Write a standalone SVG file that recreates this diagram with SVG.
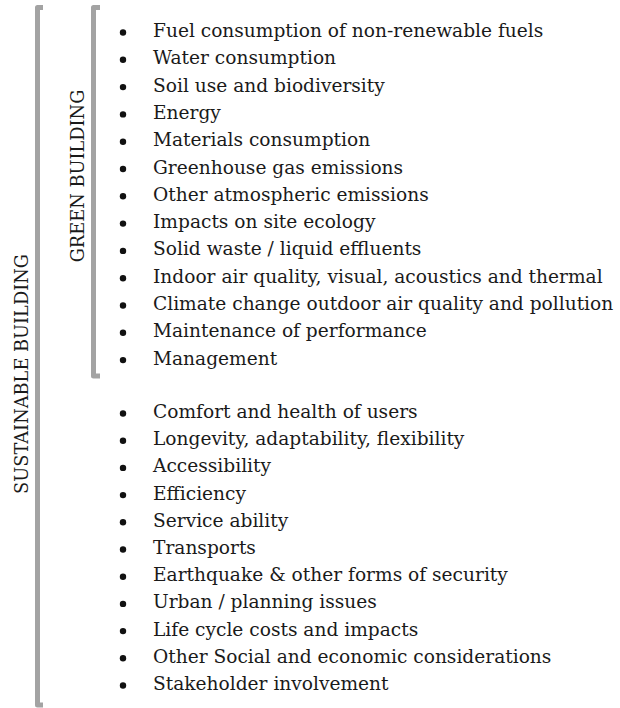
<svg xmlns="http://www.w3.org/2000/svg" width="620" height="708" viewBox="0 0 620 708">
<style>
.t{font-family:"DejaVu Serif","Liberation Serif",serif;font-size:18.6px;fill:#1a1a1a}
.v{font-family:"DejaVu Serif","Liberation Serif",serif;font-size:17.8px;fill:#1a1a1a;text-anchor:middle}
.br{fill:none;stroke:#a3a3a3;stroke-width:5;stroke-linejoin:round}
.b{fill:#111}
</style>
<rect width="620" height="708" fill="#fff"/>
<g id="sustainable">
<path class="br" d="M43,7.5 H37.5 V705 H43"/>
<text class="v" transform="translate(27.5,374) rotate(-90)">SUSTAINABLE BUILDING</text>
</g>
<g id="green">
<path class="br" d="M100,7.5 H93.5 V376 H100"/>
<text class="v" transform="translate(83.5,176) rotate(-90)">GREEN BUILDING</text>
</g>
<g id="green-items">
<circle class="b" cx="123" cy="32.5" r="3.2"/><text class="t" x="153" y="37">Fuel consumption of non-renewable fuels</text>
<circle class="b" cx="123" cy="59.8" r="3.2"/><text class="t" x="153" y="64.3">Water consumption</text>
<circle class="b" cx="123" cy="87.1" r="3.2"/><text class="t" x="153" y="91.6">Soil use and biodiversity</text>
<circle class="b" cx="123" cy="114.4" r="3.2"/><text class="t" x="153" y="118.9">Energy</text>
<circle class="b" cx="123" cy="141.7" r="3.2"/><text class="t" x="153" y="146.2">Materials consumption</text>
<circle class="b" cx="123" cy="169" r="3.2"/><text class="t" x="153" y="173.5">Greenhouse gas emissions</text>
<circle class="b" cx="123" cy="196.3" r="3.2"/><text class="t" x="153" y="200.8">Other atmospheric emissions</text>
<circle class="b" cx="123" cy="223.6" r="3.2"/><text class="t" x="153" y="228.1">Impacts on site ecology</text>
<circle class="b" cx="123" cy="250.9" r="3.2"/><text class="t" x="153" y="255.4">Solid waste / liquid effluents</text>
<circle class="b" cx="123" cy="278.2" r="3.2"/><text class="t" x="153" y="282.7">Indoor air quality, visual, acoustics and thermal</text>
<circle class="b" cx="123" cy="305.5" r="3.2"/><text class="t" x="153" y="310">Climate change outdoor air quality and pollution</text>
<circle class="b" cx="123" cy="332.8" r="3.2"/><text class="t" x="153" y="337.3">Maintenance of performance</text>
<circle class="b" cx="123" cy="360.1" r="3.2"/><text class="t" x="153" y="364.6">Management</text>
</g>
<g id="sustainable-items">
<circle class="b" cx="123" cy="413.5" r="3.2"/><text class="t" x="153" y="418">Comfort and health of users</text>
<circle class="b" cx="123" cy="440.7" r="3.2"/><text class="t" x="153" y="445.2">Longevity, adaptability, flexibility</text>
<circle class="b" cx="123" cy="467.9" r="3.2"/><text class="t" x="153" y="472.4">Accessibility</text>
<circle class="b" cx="123" cy="495.1" r="3.2"/><text class="t" x="153" y="499.6">Efficiency</text>
<circle class="b" cx="123" cy="522.3" r="3.2"/><text class="t" x="153" y="526.8">Service ability</text>
<circle class="b" cx="123" cy="549.5" r="3.2"/><text class="t" x="153" y="554">Transports</text>
<circle class="b" cx="123" cy="576.7" r="3.2"/><text class="t" x="153" y="581.2">Earthquake &amp; other forms of security</text>
<circle class="b" cx="123" cy="603.9" r="3.2"/><text class="t" x="153" y="608.4">Urban / planning issues</text>
<circle class="b" cx="123" cy="631.1" r="3.2"/><text class="t" x="153" y="635.6">Life cycle costs and impacts</text>
<circle class="b" cx="123" cy="658.3" r="3.2"/><text class="t" x="153" y="662.8">Other Social and economic considerations</text>
<circle class="b" cx="123" cy="685.5" r="3.2"/><text class="t" x="153" y="690">Stakeholder involvement</text>
</g>
</svg>
